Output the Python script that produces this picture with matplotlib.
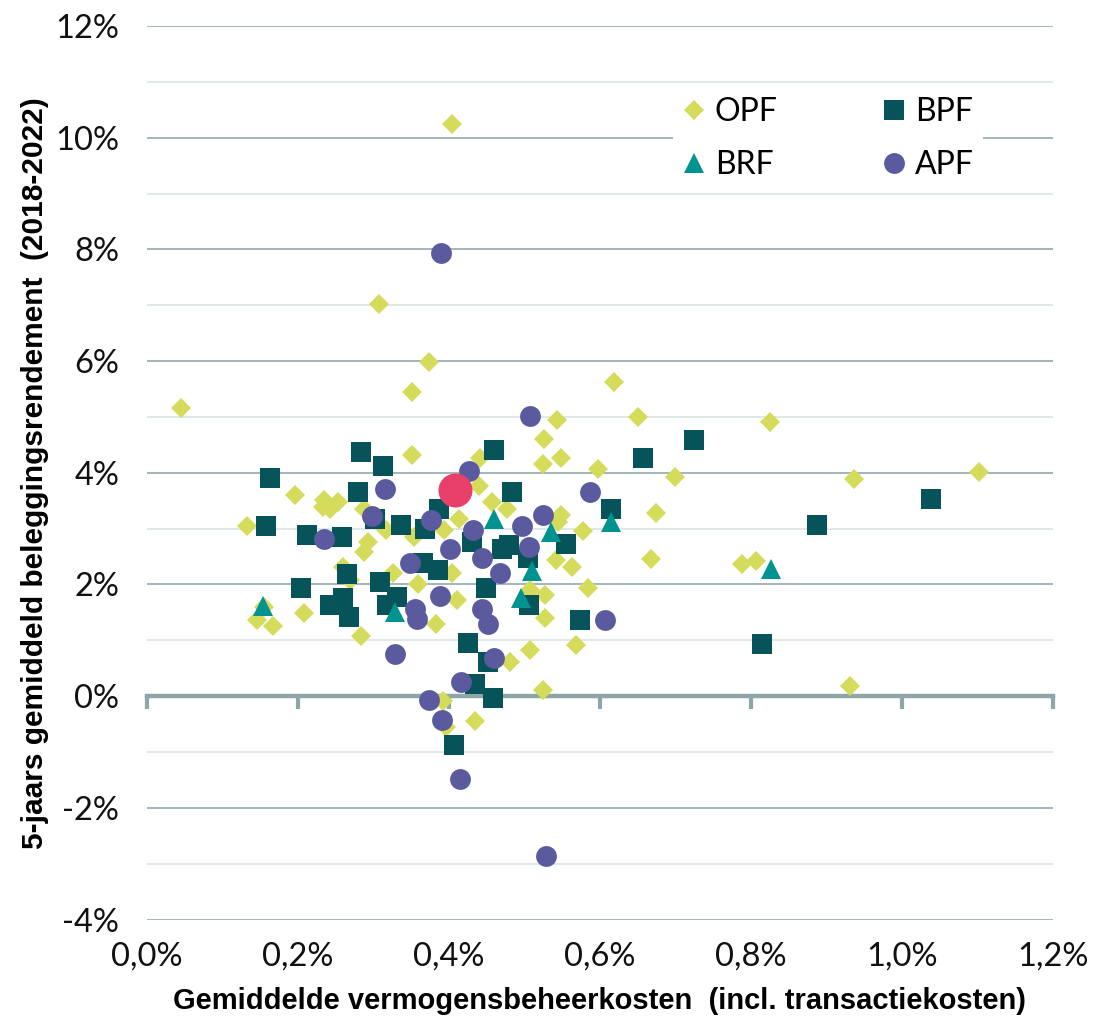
import matplotlib
matplotlib.use("Agg")
import matplotlib.pyplot as plt
from matplotlib.ticker import MultipleLocator

# ---------------- data (x: cost %, y: 5y return %) ----------------
opf_x = [0.045, 0.404, 0.307, 0.373, 0.351, 0.351, 0.619, 0.543, 0.526, 0.548,
         0.524, 0.597, 0.441, 0.440, 0.457, 0.477, 0.196, 0.234, 0.253, 0.233,
         0.242, 0.287, 0.413, 0.393, 0.549, 0.544, 0.578, 0.133, 0.542, 0.563,
         0.293, 0.287, 0.317, 0.353, 0.404, 0.260, 0.326, 0.359, 0.411, 0.527,
         0.507, 0.584, 0.208, 0.146, 0.167, 0.155, 0.383, 0.527, 0.283, 0.269,
         0.481, 0.507, 0.568, 0.525, 0.392, 0.396, 0.434, 0.650, 0.825, 0.700,
         0.937, 1.102, 0.674, 0.667, 0.788, 0.806, 0.931]
opf_y = [5.16, 10.25, 7.02, 5.99, 5.44, 4.32, 5.63, 4.95, 4.60, 4.26,
         4.15, 4.06, 4.26, 3.77, 3.47, 3.35, 3.60, 3.51, 3.48, 3.39,
         3.36, 3.36, 3.18, 2.97, 3.24, 3.12, 2.95, 3.05, 2.44, 2.32,
         2.76, 2.58, 2.97, 2.85, 2.20, 2.32, 2.20, 2.00, 1.73, 1.81,
         1.90, 1.93, 1.49, 1.36, 1.25, 1.60, 1.30, 1.40, 1.08, 2.08,
         0.61, 0.82, 0.91, 0.11, -0.09, -0.55, -0.44, 5.00, 4.91, 3.92,
         3.88, 4.02, 3.28, 2.45, 2.36, 2.42, 0.18]

bpf_x = [0.283, 0.313, 0.460, 0.163, 0.279, 0.483, 0.387, 0.615, 0.302, 0.337,
         0.368, 0.158, 0.212, 0.258, 0.431, 0.470, 0.479, 0.504, 0.555, 0.366,
         0.385, 0.265, 0.309, 0.204, 0.449, 0.506, 0.242, 0.260, 0.268, 0.318,
         0.331, 0.574, 0.425, 0.451, 0.434, 0.458, 0.406, 0.725, 0.657, 1.038,
         0.888, 0.814]
bpf_y = [4.38, 4.13, 4.40, 3.91, 3.65, 3.65, 3.35, 3.35, 3.17, 3.07,
         3.00, 3.05, 2.88, 2.85, 2.76, 2.64, 2.70, 2.47, 2.72, 2.39,
         2.26, 2.18, 2.05, 1.93, 1.93, 1.63, 1.63, 1.75, 1.42, 1.63,
         1.78, 1.36, 0.96, 0.61, 0.21, -0.04, -0.88, 4.58, 4.27, 3.53,
         3.07, 0.94]

brf_x = [0.153, 0.329, 0.460, 0.510, 0.496, 0.535, 0.615, 0.827]
brf_y = [1.61, 1.51, 3.17, 2.24, 1.75, 2.94, 3.12, 2.27]

apf_x = [0.389, 0.507, 0.426, 0.315, 0.587, 0.298, 0.376, 0.524, 0.497, 0.235,
         0.432, 0.401, 0.444, 0.506, 0.468, 0.348, 0.388, 0.355, 0.358, 0.444,
         0.451, 0.607, 0.328, 0.459, 0.416, 0.374, 0.391, 0.415, 0.528]
apf_y = [7.93, 5.01, 4.03, 3.71, 3.66, 3.22, 3.15, 3.25, 3.04, 2.81,
         2.97, 2.63, 2.48, 2.67, 2.21, 2.39, 1.79, 1.57, 1.39, 1.57,
         1.30, 1.36, 0.75, 0.69, 0.26, -0.06, -0.43, -1.49, -2.86]

highlight_x = [0.408]
highlight_y = [3.69]

series_names = ["OPF", "BPF", "BRF", "APF"]
x_ticks = [0.0, 0.2, 0.4, 0.6, 0.8, 1.0, 1.2]
y_ticks = [-4, -2, 0, 2, 4, 6, 8, 10, 12]
x_label = "Gemiddelde vermogensbeheerkosten  (incl. transactiekosten)"
y_label = "5-jaars gemiddeld beleggingsrendement  (2018-2022)"

# ---------------- style ----------------
C_OPF = "#D5DB5B"
C_BPF = "#06535A"
C_BRF = "#00938F"
C_APF = "#5B5A9E"
C_HL = "#E83F6B"
GRID_MAJ = "#9BB1B4"
GRID_MIN = "#DDE6E6"
AXIS_C = "#8FA6A9"

tick_font = ["Lato", "DejaVu Sans"]
title_font = ["Liberation Sans Narrow", "Liberation Sans", "DejaVu Sans"]

fig = plt.figure(figsize=(10.93, 10.19), dpi=100)
ax = fig.add_axes([0.13449, 0.09755, 0.82891, 0.87694])

ax.set_xlim(0, 1.2)
ax.set_ylim(-4, 12)

# gridlines
ax.set_yticks(y_ticks)
ax.yaxis.set_minor_locator(MultipleLocator(1))
ax.grid(which="major", axis="y", color=GRID_MAJ, lw=1.3, zorder=0)
ax.grid(which="minor", axis="y", color=GRID_MIN, lw=1.3, zorder=0)
ax.set_axisbelow(True)
ax.tick_params(axis="y", which="both", length=0, pad=20, labelsize=23.5)
ax.set_yticklabels([f"{v}%" for v in y_ticks], family=tick_font, color="#111111")

for s in ["top", "right", "left"]:
    ax.spines[s].set_visible(False)

# zero axis line with tick marks
ax.spines["bottom"].set_position(("data", 0))
ax.spines["bottom"].set_color(AXIS_C)
ax.spines["bottom"].set_linewidth(3.2)
ax.spines["bottom"].set_zorder(1.5)
ax.set_xticks(x_ticks)
ax.tick_params(axis="x", which="major", direction="out", length=9, width=3,
               color=AXIS_C, labelbottom=False)

# tick labels at bottom
sec = ax.secondary_xaxis("bottom")
sec.set_xticks(x_ticks)
sec.set_xticklabels([f"{v:.1f}%".replace(".", ",") for v in x_ticks],
                    family=tick_font, color="#111111")
sec.tick_params(axis="x", length=0, pad=16, labelsize=23.5)
sec.spines["bottom"].set_visible(False)

# points
h_opf, = ax.plot(opf_x, opf_y, ls="none", marker="D", ms=10, color=C_OPF, mew=0, zorder=3)
h_bpf, = ax.plot(bpf_x, bpf_y, ls="none", marker="s", ms=14, color=C_BPF, mew=0, zorder=4)
h_brf, = ax.plot(brf_x, brf_y, ls="none", marker="^", ms=14.5, color=C_BRF, mew=0, zorder=5)
h_apf, = ax.plot(apf_x, apf_y, ls="none", marker="o", ms=15, color=C_APF, mew=0, zorder=6)
ax.plot(highlight_x, highlight_y, ls="none", marker="o", ms=24.5, color=C_HL, mew=0, zorder=7)

leg = ax.legend([h_opf, h_brf, h_bpf, h_apf],
                [series_names[0], series_names[2], series_names[1], series_names[3]],
                ncol=2, loc="center", bbox_to_anchor=(0.752, 0.874),
                frameon=True, facecolor="white", edgecolor="none", framealpha=1,
                handlelength=0.7, handletextpad=0.3, columnspacing=3.3,
                labelspacing=0.72, borderpad=0.3,
                prop={"family": tick_font, "size": 23})
leg.set_zorder(8)

ax.set_xlabel(x_label, family=title_font, fontweight="bold", fontsize=21, va="center")
ax.xaxis.set_label_coords(0.5, -0.091)
ax.set_ylabel(y_label, family=title_font, fontweight="bold", fontsize=21.5, va="center")
ax.yaxis.set_label_coords(-0.1236, 0.5)

fig.savefig("out.png", dpi=100)
